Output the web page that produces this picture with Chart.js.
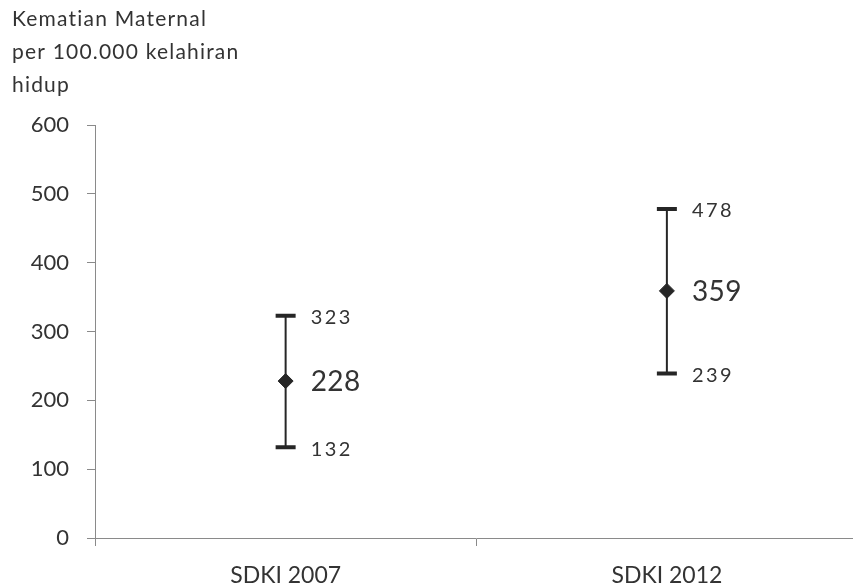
<!DOCTYPE html>
<html>
<head>
<meta charset="utf-8">
<script src="https://cdn.jsdelivr.net/npm/chart.js@4/dist/chart.umd.min.js"></script>
<style>
  html, body { margin: 0; padding: 0; background: #fff; overflow: hidden; }
  #wrap { width: 866px; height: 587px; }
</style>
</head>
<body>
<div id="wrap"><canvas id="chart"></canvas></div>
<script>
// Data
const categories = ['SDKI 2007', 'SDKI 2012'];
const estimates = [228, 359];
const lowerBounds = [132, 239];
const upperBounds = [323, 478];
const yTitleLines = ['Kematian Maternal', 'per 100.000 kelahiran', 'hidup'];

const inkColor = '#262626';
const textColor = '#333333';
const axisColor = '#8a8a8a';

// draws the whiskers, caps and value labels
const errorBarPlugin = {
    id: 'errorBars',
    beforeDatasetsDraw(chart) {
        const ctx = chart.ctx;
        const x = chart.scales.x, y = chart.scales.y;
        ctx.save();
        ctx.strokeStyle = inkColor;
        categories.forEach((c, i) => {
            const px = x.getPixelForValue(i);
            const top = y.getPixelForValue(upperBounds[i]);
            const bot = y.getPixelForValue(lowerBounds[i]);
            ctx.lineWidth = 2;
            ctx.beginPath();
            ctx.moveTo(px, top);
            ctx.lineTo(px, bot);
            ctx.stroke();
            ctx.lineWidth = 4;
            ctx.beginPath();
            ctx.moveTo(px - 10, top);
            ctx.lineTo(px + 10, top);
            ctx.moveTo(px - 10, bot);
            ctx.lineTo(px + 10, bot);
            ctx.stroke();
        });
        ctx.restore();
    },
    afterDatasetsDraw(chart) {
        const ctx = chart.ctx;
        const x = chart.scales.x, y = chart.scales.y;
        ctx.save();
        ctx.fillStyle = textColor;
        ctx.textBaseline = 'middle';
        ctx.textAlign = 'left';
        categories.forEach((c, i) => {
            const px = x.getPixelForValue(i);
            ctx.font = '28px Lato';
            ctx.letterSpacing = '0.5px';
            ctx.fillText(String(estimates[i]), px + 25, y.getPixelForValue(estimates[i]) + 1);
            ctx.font = '20px Lato';
            ctx.letterSpacing = '2.5px';
            ctx.fillText(String(upperBounds[i]), px + 25, y.getPixelForValue(upperBounds[i]) + 2);
            ctx.fillText(String(lowerBounds[i]), px + 25, y.getPixelForValue(lowerBounds[i]) + 2);
        });
        // axis title, top left
        ctx.font = '21px Lato';
        ctx.letterSpacing = '1.2px';
        yTitleLines.forEach((line, k) => {
            ctx.fillText(line, 12, 19 + k * 33);
        });
        ctx.restore();
    }
};

new Chart(document.getElementById('chart'), {
    type: 'line',
    data: {
        labels: categories,
        datasets: [{
            data: estimates,
            showLine: false,
            pointStyle: 'rectRot',
            pointRadius: 7.5,
            pointBackgroundColor: inkColor,
            pointBorderColor: inkColor,
            pointBorderWidth: 1
        }]
    },
    options: {
        responsive: true,
        maintainAspectRatio: false,
        animation: false,
        layout: { padding: { top: 125, right: 2, left: 0, bottom: 0 } },
        plugins: {
            legend: { display: false },
            tooltip: { enabled: false }
        },
        scales: {
            x: {
                offset: true,
                grid: { offset: true, drawOnChartArea: false, drawTicks: true, tickLength: 8, color: axisColor },
                border: { display: true, color: axisColor, width: 1 },
                ticks: { color: textColor, font: { family: 'Lato', size: 23 }, padding: 16 },
                afterFit(scale) { scale.height = 49; }
            },
            y: {
                min: 0,
                max: 600,
                ticks: { stepSize: 100, color: textColor, font: { family: 'Lato', size: 22 }, padding: 18 },
                grid: { drawOnChartArea: false, drawTicks: true, tickLength: 8, color: axisColor },
                border: { display: true, color: axisColor, width: 1 },
                afterFit(scale) { scale.width = 95; }
            }
        }
    },
    plugins: [errorBarPlugin]
});
</script>
</body>
</html>
